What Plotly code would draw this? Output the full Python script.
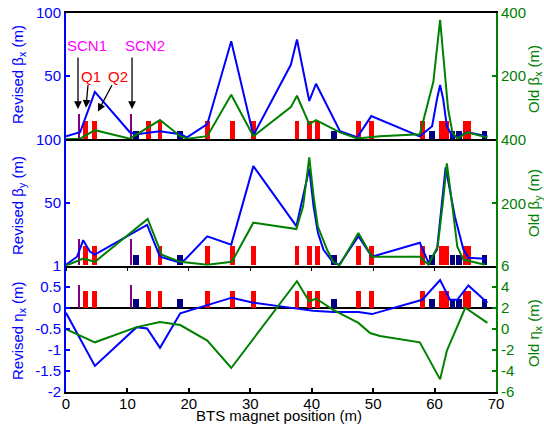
import plotly.graph_objects as go

# ---------------- data ----------------
# magnet positions along the BTS line (m)
screen_pos = [2.1, 10.6]
quad_pos = [3.1, 4.7, 13.5, 15.3, 23.0, 27.1, 30.5, 37.6, 39.6, 40.9,
            47.6, 49.8, 58.0, 61.1, 62.0, 65.0, 65.6]
corr_pos = [11.4, 18.6, 43.6, 59.6, 62.9, 64.0, 68.1]

# Revised beta_x (m)
bx_rev_s = [0, 2.3, 4.7, 10.4, 11.5, 15.3, 18.6, 19.7, 23.0, 26.9, 30.5, 36.6,
            37.6, 39.6, 40.7, 44.6, 47.4, 49.7, 57.6, 59.6, 60.4, 60.9, 61.4,
            62.0, 62.9, 63.7, 65.3, 68.6]
bx_rev = [2.4, 5.6, 37.6, 5.6, 4.0, 6.4, 4.0, 1.6, 12, 77.6, 3.2, 59,
          79, 30.4, 44, 6.4, 1.6, 18.4, 2.4, 10.4, 32, 43, 32,
          10.4, 2.4, 1.6, 5.6, 2.4]
# Old beta_x (m)
bx_old_s = [0, 2.3, 4.7, 10.4, 15.3, 18.6, 19.8, 23, 26.9, 30.5, 36.6, 37.6,
            39.6, 40.7, 44.6, 47.4, 51.1, 57.6, 59.8, 60.9, 62.2, 62.9, 63.7,
            65.3, 68.6]
bx_old = [0, 2, 29, 2, 61, 10, 2, 10, 141, 10, 102, 138,
          48, 61, 22, 3, 10, 16, 182, 378, 96, 22, 2,
          22, 6]

# Revised beta_y (m)
by_rev_s = [0, 1.8, 2.8, 3.9, 4.7, 13.2, 15.3, 18.6, 19.4, 23, 26.9, 30.5,
            37.5, 39.6, 40.3, 41, 41.9, 43.5, 44.5, 47.6, 49.8, 57.6, 59,
            60.4, 61.8, 63.3, 64.7, 65.5, 68.2]
by_rev = [1.8, 8, 21, 12, 9.6, 33, 8, 3.4, 5.8, 24, 17.5, 79,
          32, 77, 47.5, 27, 13.6, 3.4, 1.8, 24, 8, 19, 3.4,
          13.6, 78, 39.6, 13.6, 7.2, 6.5]
# Old beta_y (m)
by_old_s = [0, 2.8, 4.7, 13.3, 15.6, 18.6, 23, 27, 30.5, 37.5, 38.6, 39.6,
            40.3, 41, 42.5, 43.5, 44.5, 47.6, 49.8, 57.6, 59, 60.5, 61.4,
            62.0, 62.9, 63.7, 64.7, 68.2]
by_old = [6, 28, 18, 152, 40, 18, 9, 18, 140, 120, 191, 344,
          223, 128, 56, 18, 6, 108, 34, 34, 9, 65, 211,
          325, 191, 65, 25, 9]

# Revised eta_x (m)
ex_rev_s = [0, 4.7, 11.5, 13.2, 15.3, 18.6, 27, 30.5, 37.6, 40.2, 43.5, 47.6,
            49.8, 58, 60.9, 62.5, 63.7, 65.5, 68.6]
ex_rev = [-0.12, -1.38, -0.46, -0.49, -0.95, -0.13, 0.24, 0.12, -0.02, -0.07,
          -0.1, -0.1, -0.15, 0.19, 0.66, 0.19, 0.19, 0.53, 0.12]
# Old eta_x (m)
ex_old_s = [0, 4.7, 11.5, 15.3, 18.6, 23, 26.9, 37.6, 39.6, 40.7, 43.5, 47.6,
            49.5, 51.1, 57.6, 60.9, 62, 65, 68.6]
ex_old = [-0.04, -1.28, 0.16, 0.64, 0.36, -1.12, -3.72, 4.52, 2.6, 2.88, 1.8,
          0.56, -0.4, -0.68, -1.28, -4.8, -2.08, 2.0, 0.56]

x_ticks = [0, 10, 20, 30, 40, 50, 60, 70]
bx_left_ticks = [50, 100]
bx_right_ticks = [200, 400]
by_left_ticks = [1, 50, 100]
by_right_ticks = [6, 200, 400]
ex_left_ticks = [-2, -1.5, -1, -0.5, 0, 0.5]
ex_right_ticks = [-6, -4, -2, 0, 2, 4]

# ---------------- styling ----------------
BLUE = "#0000ff"
GREEN = "#008000"
RED = "#ff0000"
NAVY = "#000080"
PURPLE = "#800080"
MAGENTA = "#ff00ff"
FONT = "Arial, Liberation Sans, sans-serif"

TOP, BOT, H = 13, 392, 424
PH = BOT - TOP

fig = go.Figure()

panels = [
    # xaxis, left y, right y, base, (quad h, corr h, screen h)
    ("x", "y", "y2", 0, (14.6, 6.6, 20)),
    ("x2", "y3", "y4", 1, (15, 7.9, 20.4)),
    ("x3", "y5", "y6", 0, (0.41, 0.21, 0.55)),
]
for xa, ya, _, base, (hq, hc, hs) in panels:
    fig.add_trace(go.Bar(x=quad_pos, y=[hq] * len(quad_pos), base=base, width=0.8,
                         marker=dict(color=RED, line=dict(width=0)),
                         xaxis=xa, yaxis=ya, showlegend=False, hoverinfo="skip"))
    fig.add_trace(go.Bar(x=corr_pos, y=[hc] * len(corr_pos), base=base, width=0.9,
                         marker=dict(color=NAVY, line=dict(width=0)),
                         xaxis=xa, yaxis=ya, showlegend=False, hoverinfo="skip"))
    fig.add_trace(go.Bar(x=screen_pos, y=[hs] * len(screen_pos), base=base, width=0.2,
                         marker=dict(color=PURPLE, line=dict(width=0)),
                         xaxis=xa, yaxis=ya, showlegend=False, hoverinfo="skip"))

curves = [
    (bx_rev_s, bx_rev, "x", "y", BLUE),
    (bx_old_s, bx_old, "x", "y2", GREEN),
    (by_rev_s, by_rev, "x2", "y3", BLUE),
    (by_old_s, by_old, "x2", "y4", GREEN),
    (ex_rev_s, ex_rev, "x3", "y5", BLUE),
    (ex_old_s, ex_old, "x3", "y6", GREEN),
]
for s, v, xa, ya, col in curves:
    fig.add_trace(go.Scatter(x=s, y=v, mode="lines", line=dict(color=col, width=2),
                             xaxis=xa, yaxis=ya, showlegend=False, hoverinfo="skip"))

TF = dict(family=FONT, size=15)


def fmt(v):
    return ("%g" % v)


def yleft(domain, rng, ticks, extra=None):
    d = dict(domain=domain, range=rng, tickvals=ticks, ticktext=[fmt(t) for t in ticks],
             showgrid=False, zeroline=False, showline=True, linecolor=BLUE, linewidth=2,
             ticks="inside", ticklen=4, tickcolor=BLUE, tickwidth=1.5,
             tickfont=dict(TF, color=BLUE), automargin=False)
    if extra:
        d.update(extra)
    return d


def yright(anchor, over, rng, ticks):
    return dict(overlaying=over, anchor=anchor, side="right", range=rng, tickvals=ticks,
                ticktext=[fmt(t) for t in ticks], showgrid=False, zeroline=False,
                showline=True, linecolor=GREEN, linewidth=2, ticks="inside", ticklen=4,
                tickcolor=GREEN, tickwidth=1.5, tickfont=dict(TF, color=GREEN),
                automargin=False)


def xax(anchor, extra):
    d = dict(domain=[0, 1], range=[0, 70], anchor=anchor, showgrid=False, zeroline=False,
             showline=True, linecolor="black", linewidth=1.5, tickvals=x_ticks,
             automargin=False)
    d.update(extra)
    return d


fig.update_layout(
    width=544, height=H,
    margin=dict(l=66, r=48, t=TOP, b=H - BOT, autoexpand=False),
    paper_bgcolor="white", plot_bgcolor="white",
    barmode="overlay", bargap=0,
    font=dict(family=FONT, size=15, color="black"),
    xaxis=xax("y", dict(mirror=True, ticks="", showticklabels=False)),
    xaxis2=xax("y3", dict(ticks="outside", ticklen=4, tickcolor="black", showticklabels=False)),
    xaxis3=xax("y5", dict(ticks="inside", ticklen=4, tickcolor="black", tickwidth=1.5,
                          ticklabelstandoff=-3,
                          tickfont=dict(TF, color="black"))),
    yaxis=yleft([2 / 3, 1], [0, 100], bx_left_ticks, dict(anchor="x")),
    yaxis2=yright("x", "y", [0, 400], bx_right_ticks),
    yaxis3=yleft([1 / 3, 2 / 3], [1, 100], by_left_ticks, dict(anchor="x2")),
    yaxis4=yright("x2", "y3", [6, 400], by_right_ticks),
    yaxis5=yleft([0, 1 / 3], [-2, 1], ex_left_ticks,
                 dict(anchor="x3", zeroline=True, zerolinecolor="black", zerolinewidth=1.5)),
    yaxis6=yright("x3", "y5", [-6, 6], ex_right_ticks),
)


def py(p):
    return (BOT - p) / PH


ann = []
# axis titles
for txt, ypx, col, xp in [
    ("Revised β<sub>x</sub> (m)", 75, BLUE, 18),
    ("Revised β<sub>y</sub> (m)", 206, BLUE, 18),
    ("Revised η<sub>x</sub> (m)", 331, BLUE, 18),
    ("Old β<sub>x</sub> (m)", 79, GREEN, 534),
    ("Old β<sub>y</sub> (m)", 203, GREEN, 534),
    ("Old η<sub>x</sub> (m)", 333, GREEN, 534),
]:
    ann.append(dict(text=txt, xref="paper", yref="paper", x=(xp - 66) / 430,
                    y=py(ypx), xanchor="center", yanchor="middle",
                    textangle=-90, showarrow=False, font=dict(TF, color=col)))
ann.append(dict(text="BTS magnet position (m)", xref="paper", yref="paper",
                x=(279 - 66) / 430, y=py(425), xanchor="center", borderpad=0,
                yanchor="bottom", showarrow=False, font=dict(TF, color="black")))

# labels in the top panel
for txt, xs, yv, col in [("SCN1", 3.4, 74, MAGENTA), ("SCN2", 12.9, 74, MAGENTA),
                         ("Q1", 4.1, 50, RED), ("Q2", 8.5, 50, RED)]:
    ann.append(dict(text=txt, xref="x", yref="y", x=xs, y=yv, showarrow=False,
                    xanchor="center", yanchor="middle", font=dict(TF, color=col)))
for hx, hy, tx, ty in [(1.95, 24, 1.95, 66), (3.25, 25, 3.6, 44),
                       (5.2, 22, 7.6, 44), (10.75, 24, 10.75, 66)]:
    ann.append(dict(text="", xref="x", yref="y", axref="x", ayref="y", x=hx, y=hy,
                    ax=tx, ay=ty, showarrow=True, arrowhead=2, arrowsize=1.2,
                    arrowwidth=1.3, arrowcolor="black"))
fig.update_layout(annotations=ann)

fig.write_html("out.html")
